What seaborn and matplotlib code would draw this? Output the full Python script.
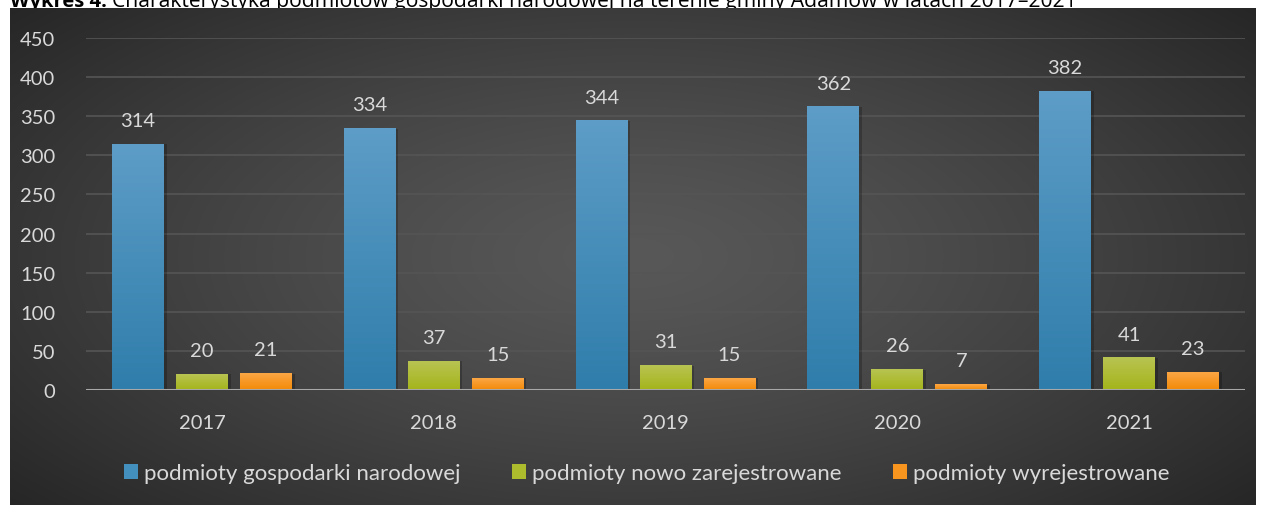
import numpy as np
import pandas as pd
import matplotlib
matplotlib.use("Agg")
import matplotlib.pyplot as plt
from matplotlib.patches import Rectangle
from matplotlib.colors import LinearSegmentedColormap
import seaborn as sns

# Data
years = ["2017", "2018", "2019", "2020", "2021"]
series_names = [
    "podmioty gospodarki narodowej",
    "podmioty nowo zarejestrowane",
    "podmioty wyrejestrowane",
]
gospodarki = [314, 334, 344, 362, 382]
nowo = [20, 37, 31, 26, 41]
wyrejestrowane = [21, 15, 15, 7, 23]
y_ticks = [0, 50, 100, 150, 200, 250, 300, 350, 400, 450]

values = [gospodarki, nowo, wyrejestrowane]
rows = []
for name, vals in zip(series_names, values):
    for yr, v in zip(years, vals):
        rows.append({"rok": yr, "seria": name, "liczba": v})
df = pd.DataFrame(rows)

base_colors = ["#4390bf", "#acbc2c", "#f7951e"]
grad_top = ["#5d9dc7", "#b8c452", "#fba645"]
grad_bot = ["#2f7dab", "#a4b41a", "#f38a06"]
text_col = "#d9d9d9"

sns.set_theme(style="dark")
plt.rcParams["font.family"] = ["Lato", "DejaVu Sans"]

W, H = 1263, 506
fig = plt.figure(figsize=(W / 100, H / 100), dpi=100)
fig.patch.set_facecolor("white")

# Radial gradient background panel
bg_ax = fig.add_axes([10 / W, 0, 1246 / W, 497 / H])
bg_ax.set_axis_off()
bg_ax.set_zorder(0)
nx, ny = 600, 240
gx, gy = np.meshgrid(np.linspace(-1, 1, nx), np.linspace(-1, 1, ny))
r = np.sqrt((gx / 1.0) ** 2 + (gy / 1.15) ** 2)
r = np.clip(r / 1.35, 0, 1)
c_in = np.array([0x58, 0x58, 0x58]) / 255
c_out = np.array([0x25, 0x25, 0x25]) / 255
img = c_in[None, None, :] * (1 - r[..., None] ** 1.3) + c_out[None, None, :] * (r[..., None] ** 1.3)
bg_ax.imshow(img, aspect="auto", extent=[0, 1, 0, 1], interpolation="bilinear")
bg_ax.set_xlim(0, 1)
bg_ax.set_ylim(0, 1)

# Title line at the top edge (the chart panel sits over its lower part)
title_font = ["Open Sans", "DejaVu Sans"]
fig.text(10 / W, 1 - 7 / H, "Wykres 4.", fontsize=14.5, fontweight="bold",
         color="black", va="baseline", ha="left", family=title_font, zorder=-1)
fig.text(112 / W, 1 - 7 / H,
         "Charakterystyka podmiotów gospodarki narodowej na terenie gminy Adamów w latach 2017–2021",
         fontsize=15.2, color="black", va="baseline", ha="left", family=title_font, zorder=-1)

# Main plot
ax = fig.add_axes([86 / W, (H - 391) / H, (1245 - 86) / W, (391 - 39) / H])
ax.set_zorder(1)
ax.set_facecolor("none")
sns.barplot(data=df, x="rok", y="liczba", hue="seria", palette=base_colors,
            width=0.828, gap=0.19, ax=ax, legend=False, saturation=1,
            edgecolor="none", zorder=3)

ax.set_ylim(0, 450)
ax.set_xlim(-0.5, len(years) - 0.5)
ax.set_yticks(y_ticks)
ax.grid(axis="y", color="#555555", linewidth=1.2, zorder=0)
ax.grid(axis="x", visible=False)
for s in ax.spines.values():
    s.set_visible(False)
ax.axhline(0, color="#a8a8a8", linewidth=2.2, zorder=5)
ax.set_xlabel("")
ax.set_ylabel("")
ax.tick_params(axis="y", colors=text_col, labelsize=14.5, length=0, pad=22)
ax.tick_params(axis="x", colors=text_col, labelsize=14.5, length=0, pad=17)

# Gradient fills, soft shadows and value labels
patches = list(ax.patches)
n_years = len(years)
for i, p in enumerate(patches):
    s_idx = i // n_years
    x0, w, h = p.get_x(), p.get_width(), p.get_height()
    cmap = LinearSegmentedColormap.from_list("g", [grad_bot[s_idx], grad_top[s_idx]])
    grad = np.linspace(0, 1, 256).reshape(-1, 1)
    ax.add_patch(Rectangle((x0 + 0.012, 0), w, h, facecolor="black", alpha=0.22,
                           edgecolor="none", zorder=2))
    ax.imshow(grad, cmap=cmap, origin="lower", aspect="auto",
              extent=[x0, x0 + w, 0, h], zorder=3.5, interpolation="bilinear")
    p.set_visible(False)
    ax.annotate(f"{int(h)}", (x0 + w / 2, h), xytext=(0, 11), textcoords="offset points",
                ha="center", va="bottom", color=text_col, fontsize=14.5, zorder=6)
ax.set_xlim(-0.5, len(years) - 0.5)
ax.set_ylim(0, 450)

# Legend
handles = [Rectangle((0, 0), 1, 1, facecolor=c, edgecolor="none") for c in base_colors]
leg = fig.legend(handles, series_names, loc="center", bbox_to_anchor=(0.512, 1 - 474 / H),
                 ncol=3, frameon=False, fontsize=16, handlelength=0.65, handleheight=0.65,
                 handletextpad=0.27, columnspacing=2.3, labelcolor=text_col)
leg.set_zorder(5)

fig.savefig("out.png", dpi=100, facecolor=fig.get_facecolor())
